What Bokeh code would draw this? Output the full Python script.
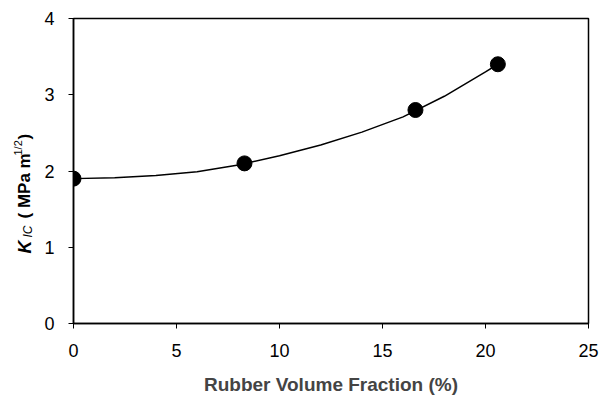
import numpy as np
from bokeh.plotting import figure
from bokeh.layouts import row
from bokeh.models import Range1d, FixedTicker
from bokeh.core.properties import value
from bokeh.embed import file_html
from bokeh.resources import INLINE

# measured data points
frac = [0.0, 8.3, 16.6, 20.6]
kic = [1.90, 2.10, 2.80, 3.40]

# trend curve
curve_x = [0, 2, 4, 6, 8, 10, 12, 14, 16, 18, 20, 20.6]
curve_y = [1.90, 1.91, 1.94, 1.99, 2.08, 2.20, 2.34, 2.51, 2.71, 2.98, 3.30, 3.40]

x_ticks = [0, 5, 10, 15, 20, 25]
y_ticks = [0, 1, 2, 3, 4]

# y-axis title pieces (text, font size, style)
ylab_text = ["K", "IC", "( MPa m", "1/2", ")"]
ylab_size = ["18px", "12px", "17px", "11px", "17px"]
ylab_style = ["bold italic", "italic", "bold", "normal", "bold"]

FONT = "Liberation Sans"
LW = 40  # width of the strip holding the y title
H = 396

p = figure(frame_width=601 - 73 - 13, frame_height=H - 18 - 73,
           output_backend="svg", toolbar_location=None,
           x_range=Range1d(0, 25), y_range=Range1d(0, 4),
           min_border_left=73 - LW, min_border_right=13, min_border_top=18, min_border_bottom=73)
p.grid.visible = False
p.outline_line_color = "black"
p.outline_line_width = 1.5
p.background_fill_color = "white"
p.border_fill_color = "white"

for ax in (p.xaxis[0], p.yaxis[0]):
    ax.axis_line_color = "black"
    ax.axis_line_width = 1.5
    ax.major_tick_line_color = "black"
    ax.major_tick_in = 0
    ax.major_tick_out = 5
    ax.minor_tick_line_color = None
    ax.major_label_text_font = FONT
    ax.major_label_text_font_size = "18px"
    ax.major_label_text_color = "black"

p.xaxis[0].ticker = FixedTicker(ticks=x_ticks)
p.yaxis[0].ticker = FixedTicker(ticks=y_ticks)
p.xaxis[0].major_label_standoff = 15
p.yaxis[0].major_label_standoff = 14

p.xaxis[0].axis_label = "Rubber Volume Fraction (%)"
p.xaxis[0].axis_label_text_font = FONT
p.xaxis[0].axis_label_text_font_style = "bold"
p.xaxis[0].axis_label_text_font_size = "19px"
p.xaxis[0].axis_label_standoff = 14

p.line(curve_x, curve_y, line_color="black", line_width=1.5)
p.scatter(frac, kic, size=15, fill_color="black", line_color="black")

# left strip: pixel-mapped figure holding the rotated, mixed-style y title
q = figure(frame_width=LW, frame_height=H, output_backend="svg", toolbar_location=None,
           x_range=Range1d(0, LW), y_range=Range1d(0, H),
           min_border=0, min_border_left=0, min_border_right=0,
           min_border_top=0, min_border_bottom=0,
           x_axis_type=None, y_axis_type=None)
q.grid.visible = False
q.outline_line_color = None
q.background_fill_color = "white"
q.border_fill_color = "white"

ylab_px = [24, 27, 24, 17, 24]       # baseline column (pixels from left)
ylab_py = [235, 219, 200, 137, 121]  # start along the axis (pixels from top)
for t, fs, st, xx, yy in zip(ylab_text, ylab_size, ylab_style, ylab_px, ylab_py):
    q.text(x=[xx], y=[H - yy], text=[t], angle=np.pi / 2,
           text_align="left", text_baseline="alphabetic",
           text_font=value(FONT), text_font_size=fs, text_font_style=st,
           text_color="black")

layout = row(q, p, spacing=0)
open("out.html", "w").write(file_html(layout, INLINE))
